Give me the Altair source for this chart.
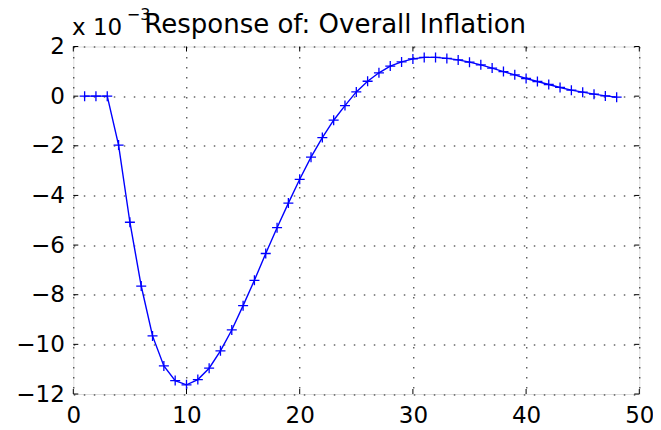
import altair as alt
import pandas as pd

# ---- data (values in units of 1e-3) ----
periods = list(range(1, 49))
inflation = [
    0.0, 0.0, 0.0, -1.97, -5.08, -7.65, -9.66, -10.87, -11.46, -11.63,
    -11.42, -10.96, -10.26, -9.42, -8.44, -7.42, -6.34, -5.30, -4.31, -3.35,
    -2.46, -1.67, -0.97, -0.38, 0.17, 0.60, 0.94, 1.21, 1.38, 1.50,
    1.56, 1.56, 1.52, 1.46, 1.37, 1.26, 1.13, 0.99, 0.86, 0.71,
    0.59, 0.47, 0.35, 0.24, 0.16, 0.08, 0.01, -0.04,
]
x_ticks = [0, 10, 20, 30, 40, 50]
y_ticks = [-12, -10, -8, -6, -4, -2, 0, 2]
title_text = "Response of: Overall Inflation"

W, H = 566, 347.5
FONT = "DejaVu Sans"
BLUE = "#0000ff"

df = pd.DataFrame({"period": periods, "value": inflation})
xt = pd.DataFrame({"period": x_ticks})
yt = pd.DataFrame({"value": y_ticks})

xs = alt.Scale(domain=[0, 50], nice=False, zero=False)
ys = alt.Scale(domain=[-12, 2], nice=False, zero=False)

grid_kw = dict(grid=True, gridColor="black", gridDash=[1.5, 8.5], gridWidth=1,
               gridOpacity=0.9, domain=False, ticks=False, labelFont=FONT,
               labelFontSize=23, labelColor="black", title=None, labelFlush=False)
x_axis = alt.Axis(values=x_ticks, labelPadding=10, **grid_kw)
y_axis = alt.Axis(values=y_ticks, labelPadding=9, **grid_kw)

X = alt.X("period:Q", scale=xs, axis=x_axis)
Y = alt.Y("value:Q", scale=ys, axis=y_axis)

line = alt.Chart(df).mark_line(color=BLUE, strokeWidth=1.4).encode(x=X, y=Y)
points = alt.Chart(df).mark_point(
    shape="M-1,0L1,0M0,-1L0,1", size=100, filled=False, color=BLUE,
    strokeWidth=1.3, opacity=1,
).encode(x=X, y=Y)

TL = 5
tick_top = alt.Chart(xt).mark_rule(color="black", strokeWidth=1).encode(
    x=X, y=alt.value(0), y2=alt.value(TL))
tick_bot = alt.Chart(xt).mark_rule(color="black", strokeWidth=1).encode(
    x=X, y=alt.value(H - TL), y2=alt.value(H))
tick_left = alt.Chart(yt).mark_rule(color="black", strokeWidth=1).encode(
    y=Y, x=alt.value(0), x2=alt.value(TL))
tick_right = alt.Chart(yt).mark_rule(color="black", strokeWidth=1).encode(
    y=Y, x=alt.value(W - TL), x2=alt.value(W))

one = pd.DataFrame({"k": [0]})
def label(text, x, y, size):
    return alt.Chart(one).mark_text(
        text=text, align="left", baseline="alphabetic", font=FONT,
        fontSize=size, color="black",
    ).encode(x=alt.value(x), y=alt.value(y))

title = label(title_text, 71, -13.5, 26)
x10 = label("x 10", -1.3, -11.5, 23)
exp = label("\u22123", 53.5, -26.5, 16)

chart = alt.layer(
    line, points, tick_top, tick_bot, tick_left, tick_right, x10, exp, title
).properties(
    width=W, height=H,
    autosize=alt.AutoSizeParams(type="none"),
    padding={"left": 65.3, "top": 38.5, "right": 13.7, "bottom": 30},
).configure_view(stroke="black", strokeWidth=1.5).configure(background="white")

chart.save("out.html", embed_options={"renderer": "svg", "actions": False})
